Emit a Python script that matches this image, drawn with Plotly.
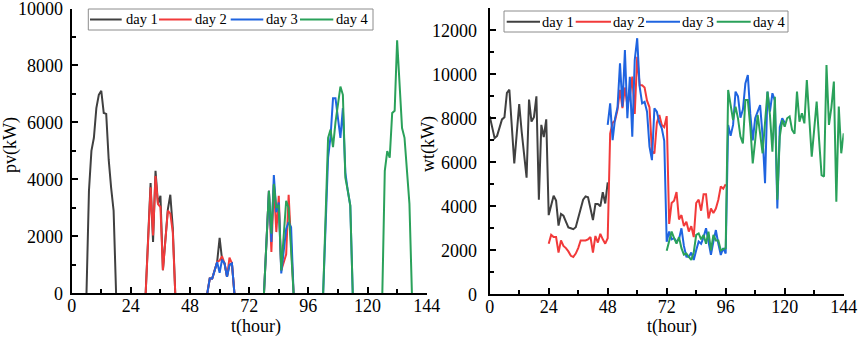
import plotly.graph_objects as go

# ---------------- data ----------------
series_names = ["day 1", "day 2", "day 3", "day 4"]
series_colors = ["#404040", "#f23a3a", "#1f64e0", "#2aa15a"]
x_ticks = [0, 24, 48, 72, 96, 120, 144]

# pv(kW): segments of (start hour, hourly values)
pv_day1 = [
    (6, [0, 3600, 5000, 5460, 6500, 6970, 7110, 6330, 6300, 4700, 3700, 2900, 0]),
    (30, [0, 1900, 3870, 1800, 4300, 3150, 3420, 810, 1900, 2950, 3460, 2300, 0]),
    (55, [0, 520, 520, 800, 1100, 1950, 1180, 1050, 580, 1000, 1050, 0]),
]
pv_day2 = [
    (30, [0, 1900, 3720, 2030, 4120, 3130, 3030, 810, 1900, 2900, 2800, 2150, 0]),
    (55, [0, 520, 520, 800, 1100, 1150, 1300, 1050, 580, 1250, 1050, 0]),
    (78, [0, 1800, 3600, 1450, 3800, 2150, 3420, 800, 1100, 1370, 3460, 1800, 0]),
]
pv_day3 = [
    (55, [0, 520, 520, 800, 1100, 720, 1180, 1050, 580, 1000, 1050, 0]),
    (78, [0, 1800, 3600, 1800, 4150, 2850, 3190, 700, 1500, 2260, 2500, 2320, 0]),
    (102, [0, 2700, 4760, 5500, 6850, 6850, 6200, 5460, 6500, 4240, 3600, 3080, 0]),
]
pv_day4 = [
    (78, [0, 1800, 3600, 2090, 3840, 3000, 3100, 800, 2000, 3250, 3000, 1500, 0]),
    (102, [0, 2700, 5460, 5750, 5130, 6000, 6700, 7260, 6970, 4060, 3600, 3080, 0]),
    (126, [0, 4300, 4990, 4760, 6330, 6410, 8880, 7200, 5800, 5460, 4300, 3140, 0]),
]

# wt(kW): segments of (start hour, hourly values)
wt_day1 = [
    (0, [8100, 7600, 7100, 7200, 7600, 7950, 8050, 9150, 9300, 7600, 5950, 7300,
         8650, 7400, 6250, 5300, 8850, 7850, 8050, 9000, 4300, 7700, 7150, 7950,
         3600, 4100, 4480, 4260, 3120, 3650, 3570, 3300, 3040, 3000, 2960, 3050,
         3500, 3900, 4300, 4450, 4410, 3900, 3370, 4100, 4100, 4000, 4640, 4130,
         5090]),
]
wt_day2 = [
    (24, [2300, 2700, 2600, 2600, 1900, 2450, 2200, 2100, 1950, 1750, 1700, 1850,
          2100, 2450, 2450, 2450, 2500, 2600, 1900, 2650, 2350, 2750, 2500, 2300,
          2550, 7300, 7800, 7900, 8400, 9290, 8460, 9400, 8600, 9000, 9900, 8200,
          10800, 9500, 9500, 9400, 8800, 8500, 6500, 6400, 7800, 8150, 7700, 7600,
          8100, 3200, 4150, 4250, 4650, 3400, 3600, 3100, 3300, 2850, 3100, 2600,
          4150, 4300, 3800, 4550, 4550, 3450, 3900, 3700, 3900, 4300, 4900, 4800,
          5000]),
]
wt_day3 = [
    (48, [7700, 8680, 7010, 8000, 8500, 10500, 8530, 11100, 8000, 9890, 7160, 10650,
          11640, 9440, 8680, 8750, 8300, 6710, 6100, 8450, 8300, 7800, 7540, 6980,
          2390, 2850, 2500, 2550, 2400, 2500, 3000, 2200, 1710, 1700, 1900, 1560,
          2000, 2400, 2300, 2600, 3000, 2300, 1800, 2400, 2920, 2300, 1790, 2100,
          1850, 7700, 7200, 7700, 9210, 9000, 8030, 8400, 9580, 9970, 8200, 7000,
          8000, 8300, 8600, 7200, 5050, 9210, 8300, 9140, 8800, 3900, 7600, 8000,
          7800]),
]
wt_day4 = [
    (72, [1980, 2400, 2850, 2550, 2300, 2600, 2100, 1800, 1850, 1700, 1560, 1900,
          2700, 2770, 2500, 2700, 2300, 2850, 2000, 2700, 2450, 2450, 2000, 2050,
          2100, 9290, 8600, 7920, 8530, 8000, 7170, 6860, 8830, 8830, 7620, 5950,
          7000, 8150, 7300, 6410, 7800, 9210, 8150, 6480, 8980, 4300, 7170, 7920,
          7620, 8000, 8080, 7470, 7300, 9210, 7850, 8230, 7770, 9740, 8000, 6260,
          7500, 8760, 7000, 5420, 5350, 10420, 7700, 8500, 9670, 4210, 8530, 6410,
          7320]),
]

pv_series = [pv_day1, pv_day2, pv_day3, pv_day4]
wt_series = [wt_day1, wt_day2, wt_day3, wt_day4]


def build(segments):
    xs, ys = [], []
    for start, vals in segments:
        if xs:
            xs.append(None)
            ys.append(None)
        xs.extend(range(start, start + len(vals)))
        ys.extend(vals)
    return xs, ys


FONT = "Liberation Serif"
W, H = 865, 339

fig = go.Figure()
for name, color, segs in zip(series_names, series_colors, pv_series):
    xs, ys = build(segs)
    fig.add_trace(go.Scatter(x=xs, y=ys, mode="lines", name=name,
                             line=dict(color=color, width=2),
                             xaxis="x", yaxis="y", showlegend=False,
                             connectgaps=False))
for name, color, segs in zip(series_names, series_colors, wt_series):
    xs, ys = build(segs)
    fig.add_trace(go.Scatter(x=xs, y=ys, mode="lines", name=name,
                             line=dict(color=color, width=2),
                             xaxis="x2", yaxis="y2", showlegend=False,
                             connectgaps=False))

axis_common = dict(
    showline=True, linewidth=2, linecolor="black",
    ticks="inside", ticklen=6, tickwidth=2, tickcolor="black",
    showgrid=False, zeroline=False, automargin=False,
    tickfont=dict(family=FONT, size=18, color="black"),
    tickformat="d", ticklabeloverflow="allow",
)
minor_common = dict(ticks="inside", ticklen=4, tickwidth=2, tickcolor="black",
                    showgrid=False)

# ---- legend boxes drawn as layout shapes + text (positions in pixels) ----
legend_boxes = [
    dict(box=(88.3, 9, 373, 30), lines=[(90, 121.7), (159, 191.7), (230.7, 263.3), (300, 333.3)],
         text_x=[124.5, 193.5, 265, 335], y=19.5),
    dict(box=(504, 11, 788, 32), lines=[(506.7, 540), (575.7, 611), (646, 680), (716.7, 750.7)],
         text_x=[540.5, 611.5, 680.5, 751.5], y=21.7),
]


def px_x(v):
    return v / W


def px_y(v):
    return 1 - v / H


shapes = []
annotations = []
for lg in legend_boxes:
    x0, y0, x1, y1 = lg["box"]
    shapes.append(dict(type="rect", xref="paper", yref="paper",
                       x0=px_x(x0), x1=px_x(x1), y0=px_y(y1), y1=px_y(y0),
                       line=dict(color="#8c8c8c", width=1), fillcolor="white", layer="above"))
    for (lx0, lx1), tx, name, color in zip(lg["lines"], lg["text_x"], series_names, series_colors):
        shapes.append(dict(type="line", xref="paper", yref="paper",
                           x0=px_x(lx0), x1=px_x(lx1), y0=px_y(lg["y"]), y1=px_y(lg["y"]),
                           line=dict(color=color, width=2), layer="above"))
        annotations.append(dict(text=name, x=px_x(tx), y=px_y(lg["y"]), xref="paper", yref="paper",
                                showarrow=False, xanchor="left", yanchor="middle",
                                borderpad=0,
                                font=dict(family=FONT, size=14.5, color="black")))

annotations += [
    dict(text="t(hour)", x=256 / W, y=px_y(326), xref="paper", yref="paper",
         showarrow=False, xanchor="center", yanchor="middle",
         font=dict(family=FONT, size=18, color="black")),
    dict(text="t(hour)", x=672 / W, y=px_y(326), xref="paper", yref="paper",
         showarrow=False, xanchor="center", yanchor="middle",
         font=dict(family=FONT, size=18, color="black")),
    dict(text="pv(kW)", x=11 / W, y=px_y(145), xref="paper", yref="paper",
         showarrow=False, xanchor="center", yanchor="middle", textangle=-90,
         font=dict(family=FONT, size=18, color="black")),
    dict(text="wt(kW)", x=428 / W, y=px_y(144), xref="paper", yref="paper",
         showarrow=False, xanchor="center", yanchor="middle", textangle=-90,
         font=dict(family=FONT, size=18, color="black")),
]

fig.update_layout(
    template="none",
    width=W, height=H, autosize=False,
    margin=dict(l=0, r=0, t=0, b=0, pad=0),
    paper_bgcolor="white", plot_bgcolor="white",
    font=dict(family=FONT, size=18, color="black"),
    showlegend=False,
    xaxis=dict(domain=[71.7 / W, 426.7 / W], range=[0, 144], anchor="y",
               tickvals=x_ticks, minor=dict(tick0=0, dtick=12, **minor_common),
               ticklabelstandoff=-5, **axis_common),
    yaxis=dict(domain=[(H - 293.3) / H, (H - 8.5) / H], range=[0, 10000], anchor="x",
               tick0=0, dtick=2000, minor=dict(tick0=0, dtick=1000, **minor_common),
               ticklabelstandoff=3, **axis_common),
    xaxis2=dict(domain=[489.7 / W, 843.7 / W], range=[0, 144], anchor="y2",
                tickvals=x_ticks, minor=dict(tick0=0, dtick=12, **minor_common),
                ticklabelstandoff=-5, **axis_common),
    yaxis2=dict(domain=[(H - 294.3) / H, (H - 8.3) / H], range=[0, 13000], anchor="x2",
                tick0=0, dtick=2000, minor=dict(tick0=0, dtick=1000, **minor_common),
                ticklabelstandoff=7, **axis_common),
    shapes=shapes,
    annotations=annotations,
)

# remove the browser's default page margin so the 865x339 figure fills the window exactly
fig.write_html(
    "out.html",
    config=dict(displayModeBar=False, staticPlot=True),
    post_script="document.body.style.margin='0';document.body.style.padding='0';"
                "document.documentElement.style.overflow='hidden';",
)
